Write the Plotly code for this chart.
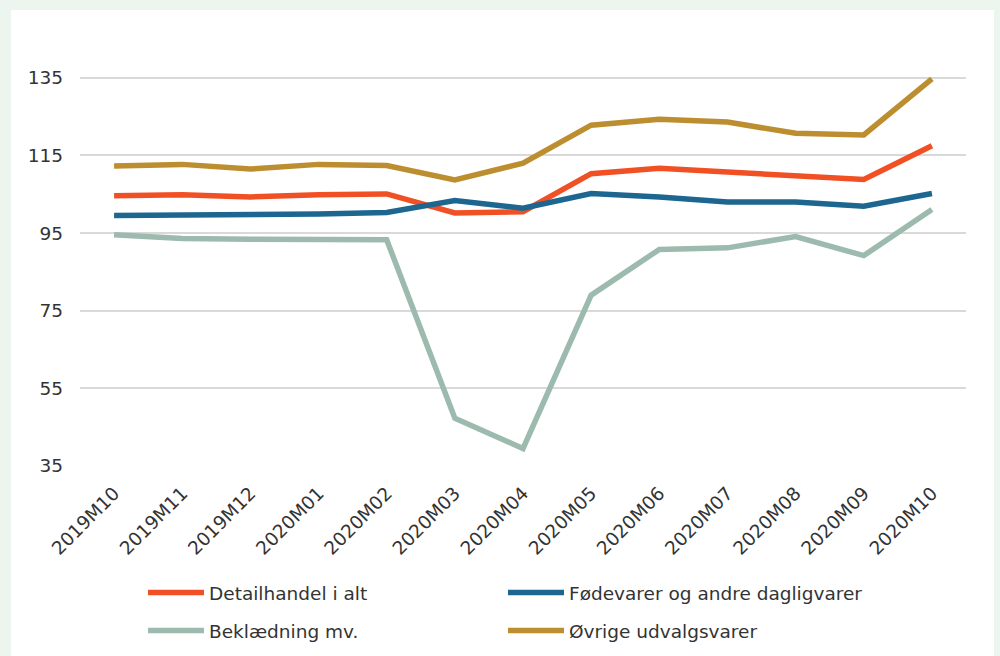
import plotly.graph_objects as go

months = ["2019M10", "2019M11", "2019M12", "2020M01", "2020M02", "2020M03", "2020M04",
          "2020M05", "2020M06", "2020M07", "2020M08", "2020M09", "2020M10"]

detailhandel = [104.6, 104.9, 104.3, 104.9, 105.1, 100.2, 100.5, 110.3, 111.7, 110.7, 109.9, 108.8, 117.5]
foedevarer = [99.5, 99.6, 99.7, 99.9, 100.3, 103.4, 101.4, 105.2, 104.3, 103.0, 103.0, 101.9, 105.2]
beklaedning = [94.6, 93.6, 93.4, 93.4, 93.3, 47.3, 39.5, 79.0, 90.8, 91.2, 94.1, 89.2, 101.1]
oevrige = [112.3, 112.7, 111.5, 112.7, 112.4, 108.7, 113.0, 122.8, 124.3, 123.6, 120.7, 120.3, 134.7]

y_ticks = [35, 55, 75, 95, 115, 135]

series = [
    ("Detailhandel i alt", detailhandel, "#F15025"),
    ("Fødevarer og andre dagligvarer", foedevarer, "#1C6690"),
    ("Beklædning mv.", beklaedning, "#9DBAAE"),
    ("Øvrige udvalgsvarer", oevrige, "#BC8E30"),
]

W, H = 1000, 656
L, R, T, B = 80, 34, 39, 190
pw, ph = W - L - R, H - T - B

def px_x(p):
    return (p - L) / pw

def px_y(p):
    return (H - B - p) / ph

font = "DejaVu Sans, Verdana, sans-serif"
fs = 18.5

# legend placement (container pixels): (x of entry, y center)
legend_pos = [(143, 593), (503, 593), (143, 631), (503, 631)]
legend_ids = ["legend", "legend2", "legend3", "legend4"]

fig = go.Figure()
for (name, vals, col), lg in zip(series, legend_ids):
    fig.add_trace(go.Scatter(
        x=months, y=vals, name=name, mode="lines",
        line=dict(color=col, width=5.5),
        legend=lg,
    ))

layout_legends = {}
for lg, (lx, ly) in zip(legend_ids, legend_pos):
    layout_legends[lg] = dict(
        xref="container", yref="container",
        x=lx / W, y=1 - ly / H, xanchor="left", yanchor="middle",
        orientation="v", itemwidth=56,
        bgcolor="rgba(0,0,0,0)", borderwidth=0,
        font=dict(family=font, size=fs, color="#333333"),
    )

fig.update_layout(
    width=W, height=H,
    margin=dict(l=L, r=R, t=T, b=B, pad=0, autoexpand=False),
    paper_bgcolor="#EDF6EE",
    plot_bgcolor="#FFFFFF",
    font=dict(family=font, size=fs, color="#333333"),
    showlegend=True,
    xaxis=dict(
        type="category", range=[-0.5, 12.5], tickangle=-45,
        showgrid=False, zeroline=False, showline=False, ticks="",
        automargin=False, ticklabelstandoff=12,
        tickfont=dict(family=font, size=fs, color="#333333"),
    ),
    yaxis=dict(
        range=[35, 145], tickvals=y_ticks, showgrid=True,
        gridcolor="#D9D9D9", gridwidth=1.5, zeroline=False, showline=False,
        ticks="", ticklabelstandoff=16, automargin=False,
        tickfont=dict(family=font, size=fs, color="#333333"),
    ),
    shapes=[dict(
        type="rect", xref="paper", yref="paper",
        x0=px_x(11), x1=px_x(994), y0=px_y(H + 5), y1=px_y(10),
        fillcolor="#FFFFFF", line=dict(width=0), layer="below",
    )],
    **layout_legends,
)

fig.write_html("out.html")
